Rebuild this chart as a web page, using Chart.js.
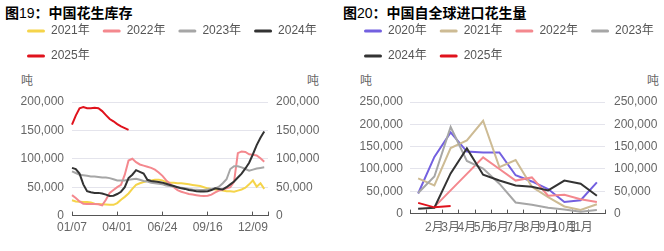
<!DOCTYPE html>
<html>
<head>
<meta charset="utf-8">
<script src="https://cdn.jsdelivr.net/npm/chart.js@4.4.1/dist/chart.umd.min.js"></script>
<style>
  body { margin: 0; width: 664px; height: 251px; overflow: hidden; position: relative; background: #fff; }
  canvas { position: absolute; top: 0; }
  .title { position: absolute; top: 3px; font: 14px Arial, 'Noto Sans CJK SC', sans-serif; color: #000; line-height: 18px; white-space: nowrap; }
  .title b { font-family: 'Noto Sans CJK SC', sans-serif; font-weight: 700; }
  .unit { position: absolute; top: 71px; font: 12px 'Noto Sans CJK SC', sans-serif; color: #666; }
</style>
</head>
<body>
<div class="title" style="left:5px"><b>图</b>19<b>：中国花生库存</b></div>
<div class="title" style="left:343px"><b>图</b>20<b>：中国自全球进口花生量</b></div>
<span class="unit" style="left:21px">吨</span>
<span class="unit" style="left:307px">吨</span>
<span class="unit" style="left:360px">吨</span>
<span class="unit" style="left:647px">吨</span>
<canvas id="stock" width="350" height="251" style="left:0"></canvas>
<canvas id="imports" width="350" height="251" style="left:332px"></canvas>
<script>
// 图19 周度库存（吨）
const weeks = ['01/07','01/14','01/21','01/28','02/04','02/11','02/18','02/25','03/04','03/11','03/18','03/25',
  '04/01','04/08','04/15','04/22','04/29','05/06','05/13','05/20','05/27','06/03','06/10','06/17',
  '06/24','07/01','07/08','07/15','07/22','07/29','08/05','08/12','08/19','08/26','09/02','09/09',
  '09/16','09/23','09/30','10/07','10/14','10/21','10/28','11/04','11/11','11/18','11/25','12/02',
  '12/09','12/16','12/23','12/30','12/31'];
const stock2021 = [27000,25000,24500,24000,24000,23000,21000,20500,20000,19500,19000,19000,
  22000,28000,33000,39000,47000,54000,57000,59000,61000,62000,63000,63000,
  62000,59000,58000,58000,57000,57000,56000,55000,54000,53000,52000,50000,
  48000,47000,46000,45000,44000,43000,43000,42000,44000,46000,49000,55000,
  62000,51000,57000,47000];
const stock2022 = [36000,31000,25000,21000,20500,20500,20500,20000,18000,28000,40000,45000,
  50000,54000,72000,97000,100000,94000,90000,88000,86000,84000,81000,76000,
  70000,62000,56000,50000,45000,42000,40000,38000,37000,36000,35000,34500,
  35000,37000,41000,44000,46000,48000,50000,60000,110000,113000,112000,108000,
  107000,106000,101000,95000];
const stock2023 = [78000,75000,72000,71000,70000,69000,69000,68000,67000,67000,66000,64000,
  62000,62000,62000,63000,64000,65000,63000,61000,60000,58000,57000,56000,
  55000,53000,52000,51000,50000,49000,48000,47000,46000,45500,45000,45000,
  46000,47000,48000,51000,57000,64000,82000,87000,87000,85000,82000,79000,
  81000,83000,84000,85000];
const stock2024 = [84000,82000,74000,55000,43000,41000,40000,40000,39000,37000,34500,35000,
  38000,42000,50000,66000,72000,80000,77000,74000,63000,61000,60000,59000,
  58000,56000,54000,52000,50000,48000,47000,45000,44000,43000,42500,42500,
  43000,45000,48000,47000,46000,50000,55000,60000,67000,74000,83000,93000,
  108000,124000,137000,148000];
const stock2025 = [160000,176000,189000,191000,189000,189000,190000,189000,184000,177000,170000,166000,
  161000,157000,154000,151000];

// 图20 月度进口量（吨）
const months = ['1月','2月','3月','4月','5月','6月','7月','8月','9月','10月','11月','12月'];
const imp2020 = [45000,127000,182000,139000,137000,137000,86000,72000,55000,26000,30000,70000];
const imp2021 = [79000,63000,147000,164000,208000,104000,120000,60000,37000,16000,8000,21000];
const imp2022 = [null,15000,52000,89000,126000,100000,74000,81000,40000,42000,32000,26000];
const imp2023 = [46000,83000,194000,118000,101000,67000,25000,20000,13000,9000,4000,8000];
const imp2024 = [11000,13000,90000,146000,87000,74000,63000,60000,52000,74000,67000,40000];
const imp2025 = [24000,14000,17000];

Chart.defaults.font.family = "Arial, 'Noto Sans CJK SC', sans-serif";
Chart.defaults.font.size = 12;
Chart.defaults.color = '#666';

// 图例下方留出“吨”所在的空白
const legendGap = {
  id: 'legendGap',
  beforeInit(chart) {
    const fit = chart.legend.fit;
    chart.legend.fit = function () {
      fit.call(this);
      this.height += 30;
    };
  }
};

function line(label, data, color, i) {
  return {
    label: label,
    data: data,
    borderColor: color,
    backgroundColor: color,
    borderWidth: 2,
    pointRadius: 0,
    pointHoverRadius: 0,
    tension: 0,
    order: -i,
    yAxisID: 'y'
  };
}

function legendOpts() {
  return {
    position: 'top',
    align: 'start',
    labels: {
      boxWidth: 18,
      boxHeight: 3,
      padding: 13,
      color: '#555',
      font: { size: 12 },
      sort: (a, b) => a.datasetIndex - b.datasetIndex,
      generateLabels: chart => Chart.defaults.plugins.legend.labels.generateLabels(chart)
        .map(l => ({ ...l, lineWidth: 0, borderRadius: 1.5 }))
    }
  };
}

function yAxes(max, step, leftW, padL, padR) {
  const fmt = v => v.toLocaleString('en-US');
  return {
    y: {
      position: 'left', min: 0, max: max,
      ticks: { stepSize: step, padding: padL, callback: fmt, color: '#666' },
      grid: { color: '#E4E4EC', drawTicks: false },
      border: { display: false },
      afterFit: s => { s.width = leftW; }
    },
    y1: {
      position: 'right', min: 0, max: max,
      ticks: { stepSize: step, padding: padR, callback: fmt, color: '#666' },
      grid: { display: false, drawTicks: false },
      border: { display: false },
      afterFit: s => { s.width = 64; }
    }
  };
}

new Chart(document.getElementById('stock'), {
  type: 'line',
  data: {
    labels: weeks,
    datasets: [
      line('2021年', stock2021, '#F5D44A', 0),
      line('2022年', stock2022, '#F4888E', 1),
      line('2023年', stock2023, '#A6A6A6', 2),
      line('2024年', stock2024, '#333333', 3),
      line('2025年', stock2025, '#E0121C', 4)
    ]
  },
  options: {
    responsive: false,
    animation: false,
    layout: { padding: { left: 14, right: 18, top: 12, bottom: 7 } },
    plugins: { legend: legendOpts(), tooltip: { enabled: false } },
    scales: {
      x: {
        ticks: {
          autoSkip: false, maxRotation: 0, padding: 9, color: '#666',
          callback: function (v, i) { return i % 12 === 0 && i < 52 ? this.getLabelForValue(v) : ''; }
        },
        grid: {
          drawOnChartArea: false, tickLength: -4,
          color: c => (c.index % 12 === 0 || c.index === 52) ? '#555' : 'rgba(0,0,0,0)'
        },
        border: { color: '#555' }
      },
      ...yAxes(200000, 50000, 58, 8, 8)
    }
  },
  plugins: [legendGap]
});

new Chart(document.getElementById('imports'), {
  type: 'line',
  data: {
    labels: months,
    datasets: [
      line('2020年', imp2020, '#7360E0', 0),
      line('2021年', imp2021, '#CDBB94', 1),
      line('2022年', imp2022, '#F4888E', 2),
      line('2023年', imp2023, '#A6A6A6', 3),
      line('2024年', imp2024, '#333333', 4),
      line('2025年', imp2025, '#E0121C', 5)
    ]
  },
  options: {
    responsive: false,
    animation: false,
    layout: { padding: { left: 19, right: 13, top: 12, bottom: 5 } },
    plugins: { legend: legendOpts(), tooltip: { enabled: false } },
    scales: {
      x: {
        offset: true,
        ticks: {
          autoSkip: false, maxRotation: 0, padding: 11, color: '#666',
          callback: function (v, i) { return i === 0 || i === 11 ? '' : this.getLabelForValue(v); }
        },
        grid: { offset: true, drawOnChartArea: false, tickLength: -4, color: '#555' },
        border: { color: '#555' }
      },
      ...yAxes(250000, 50000, 59, 7, 9)
    }
  },
  plugins: [legendGap]
});
</script>
</body>
</html>
